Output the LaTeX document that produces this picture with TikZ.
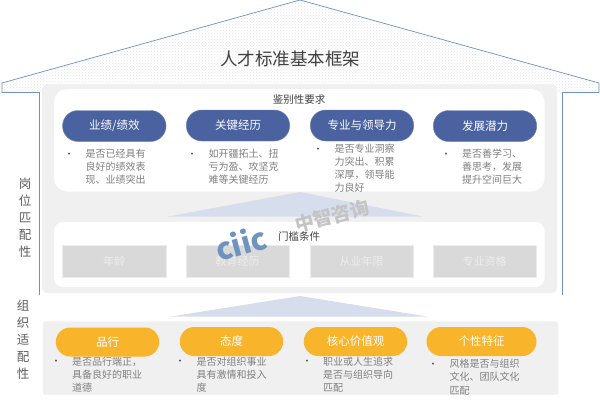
\documentclass[tikz,border=0pt]{standalone}
\usepackage{fontspec}
\setmainfont{Noto Sans CJK SC}
\usetikzlibrary{patterns}
\definecolor{roofline}{HTML}{6F93BE}
\definecolor{roofdot}{HTML}{E6E6E6}
\definecolor{panel}{HTML}{F0F0F0}
\definecolor{bluepill}{HTML}{4A62A0}
\definecolor{orangepill}{HTML}{F8B42B}
\definecolor{greybox}{HTML}{D9D9D9}
\definecolor{tri}{HTML}{D6DDEC}
\definecolor{bodytext}{HTML}{7F7F7F}
\definecolor{darktext}{HTML}{404040}
\definecolor{wmblue}{HTML}{6F93BE}
\definecolor{wmgrey}{HTML}{C4C4C4}
\tikzset{
  x=1pt,y=-1pt,
  pill/.style={rounded corners=15.5pt,minimum width=103.5pt,minimum height=31pt,inner sep=0pt,text=white,font=\fontsize{11.5}{13}\selectfont},
  bluep/.style={pill,fill=bluepill,draw=bluepill!80!white,line width=.4pt},
  orangep/.style={pill,fill=orangepill,minimum height=29pt,rounded corners=14.5pt},
  gbox/.style={fill=greybox,draw=black!8,line width=.5pt,minimum width=103.5pt,minimum height=32pt,inner sep=0pt,text=white!93!black,font=\fontsize{11}{13}\selectfont},
  body/.style={anchor=north west,text=bodytext,align=left,inner sep=0pt,font=\fontsize{10}{13.2}\selectfont},
  bull/.style={text=darktext,inner sep=0pt,font=\fontsize{9}{9}\selectfont},
  head/.style={text=darktext,inner sep=0pt,font=\fontsize{10.5}{12}\selectfont},
  side/.style={text=darktext!85!white,inner sep=0pt,align=center,font=\fontsize{12.5}{17}\selectfont},
}
\begin{document}
\begin{tikzpicture}
\useasboundingbox (0,0) rectangle (600,407);
\fill[white] (0,0) rectangle (600,407);
% roof
\path[fill=white,pattern=crosshatch dots,pattern color=roofdot] (2,83) -- (300,0) -- (599,83) -- (599,92) -- (2,92) -- cycle;
\draw[roofline,line width=.7pt] (39.5,295) -- (39.5,92.5) -- (2,92.5) -- (2,83) -- (300,0) -- (599,83) -- (599,92.5) -- (562.5,92.5) -- (562.5,295);
% panels
\fill[panel,rounded corners=6pt] (42,84) rectangle (557,293);
\fill[white,rounded corners=13pt] (54,89) rectangle (544.5,191.5);
\fill[white,rounded corners=9pt] (54,222) rectangle (544.5,287);
\fill[tri] (168,216.5) -- (300,192) -- (423,216.5) -- cycle;
\fill[tri] (171,316.5) -- (300,296) -- (427,316.5) -- cycle;
\fill[panel,rounded corners=2pt,draw=black!5,line width=.4pt] (43,321.5) rectangle (558,394.5);
% title
\node[text=darktext,inner sep=0pt,font=\fontsize{17.5}{20}\selectfont] (title) at (290,59) {人才标准基本框架};
\node[head] (h1) at (299,100) {鉴别性要求};
\node[head] (h2) at (299,236) {门槛条件};
% side
\node[side] (s1) at (25,217.5) {岗\\位\\匹\\配\\性};
\node[side] (s2) at (23,340) {组\\织\\适\\配\\性};
% blue pills
\node[bluep] (p1) at (114.3,126) {业绩/绩效};
\node[bluep] (p2) at (238,125.5) {关键经历};
\node[bluep] (p3) at (362,125.5) {专业与领导力};
\node[bluep] (p4) at (485,126) {发展潜力};
% bodies
\node[bull] (b1) at (69,155) {•};
\node[body] (t1) at (85.5,148.5) {是否已经具有\\良好的绩效表\\现、业绩突出};
\node[bull] (b2) at (192,155) {•};
\node[body] (t2) at (208.5,148.5) {如开疆拓土、扭\\亏为盈、攻坚克\\难等关键经历};
\node[bull] (b3) at (318,150) {•};
\node[body] (t3) at (334.5,143.5) {是否专业洞察\\力突出、积累\\深厚，领导能\\力良好};
\node[bull] (b4) at (446,155) {•};
\node[body] (t4) at (462,148.5) {是否善学习、\\善思考，发展\\提升空间巨大};
% grey boxes
\node[gbox] (g1) at (114,261.5) {年龄};
\node[gbox] (g2) at (237.5,261) {教育经历};
\node[gbox] (g3) at (361.5,261) {从业年限};
\node[gbox] (g4) at (484.5,261.5) {专业资格};
% orange pills
\node[orangep] (o1) at (107.5,342) {品行};
\node[orangep] (o2) at (231.5,341.5) {态度};
\node[orangep] (o3) at (355.5,341.5) {核心价值观};
\node[orangep,minimum width=110pt] (o4) at (481.5,341.5) {个性特征};
\node[bull] (c1) at (56,362) {•};
\node[body] (u1) at (72,356.5) {是否品行端正，\\具备良好的职业\\道德};
\node[bull] (c2) at (180,362) {•};
\node[body] (u2) at (196.5,356.5) {是否对组织事业\\具有激情和投入\\度};
\node[bull] (c3) at (307,362) {•};
\node[body] (u3) at (323,356.5) {职业或人生追求\\是否与组织导向\\匹配};
\node[bull] (c4) at (433,365) {•};
\node[body] (u4) at (449.5,359) {风格是否与组织\\文化、团队文化\\匹配};
% watermark
\node[text=wmblue,inner sep=0pt,rotate=15,font=\fontsize{30}{30}\selectfont\bfseries] (wm1) at (241,243) {ciic};
\node[text=wmgrey,inner sep=0pt,rotate=15,font=\fontsize{19}{19}\selectfont\bfseries] (wm2) at (332,216) {中智咨询};
\end{tikzpicture}
\end{document}
